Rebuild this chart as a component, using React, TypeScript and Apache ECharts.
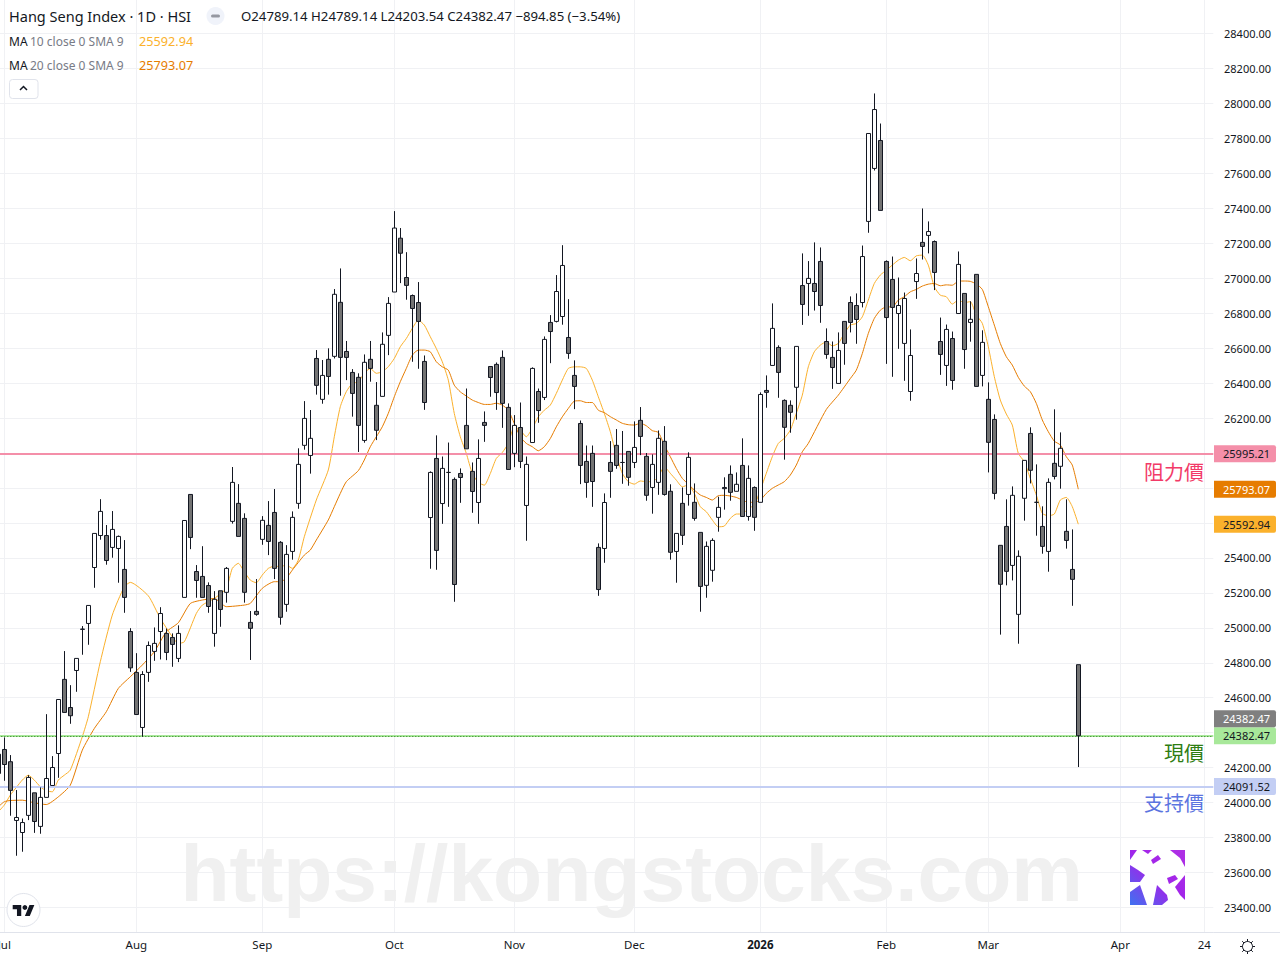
import React, { useEffect, useRef } from "react";
import * as echarts from "echarts";

const opens = [24277,24304,24234,23898,23829,23927,24056,23864,24030,24098,
24281,24705,24544,24756,24991,25025,25345,25528,25528,25460,
25454,25334,24979,24745,24430,24745,24865,24979,24968,24945,
24825,25174,25763,25322,25294,25242,24968,25212,25203,25609,
25712,25626,25031,25094,25506,25586,25660,25489,25134,25437,
25712,26044,25986,26541,26307,26536,26553,26862,26581,26461,
26433,26072,26536,26273,26324,26673,26921,27229,27004,26901,
26861,26524,25631,25969,25711,25889,25849,25883,26158,25895,
25717,26175,26495,26507,26547,26261,25998,26146,25700,26060,
26352,26318,26747,26753,26781,26661,26444,26169,25952,25998,
25460,25454,25946,26044,25946,26009,25946,26187,25981,25803,
25832,26067,25781,25437,25712,25763,25718,25546,25243,25329,
25632,25803,25878,25781,25929,25637,25803,25718,26358,26501,
26604,26301,26273,26376,26958,26970,26970,27096,26638,26547,
26398,26753,26861,26844,26861,27325,27628,27788,27096,26993,
26798,26627,26352,26981,27205,27245,27210,26638,26501,26655,
26798,26913,26747,27022,26444,26307,26192,25472,25580,25357,
25077,25741,26112,25718,25580,25437,25941,25924,25552,25334,
24789.14];

const closes = [24167,24218,24070,23915,23886,24144,23892,24030,24138,24201,
24590,24516,24497,24825,24993,25128,25540,25666,25385,25563,
25523,25174,24771,24504,24733,24899,24911,25082,24859,24905,
24968,25614,25517,25271,25174,25122,25163,25105,25340,25832,
25523,25203,24997,25077,25615,25494,25340,25060,25420,25632,
25935,26198,26084,26387,26444,26438,26908,26547,26547,26341,
26158,26519,26484,26130,26622,26856,27287,27143,26959,26827,
26753,26289,25889,25443,25912,25889,25248,25860,26024,25780,
25969,26158,26432,26346,26284,25906,26158,25952,25935,26484,
26243,26650,26695,26924,27073,26570,26381,25929,25832,25837,
25219,25717,25895,25929,25946,25861,26032,26095,25758,25935,
26084,25763,25432,25540,25529,25975,25626,25237,25466,25500,
25689,25796,25775,25821,25637,25855,25632,26335,26347,26713,
26461,26147,26233,26610,26850,26999,26924,26844,26564,26489,
26587,26627,26747,26764,27124,27828,27965,27388,26775,26833,
26844,26884,26558,27027,27182,27267,27033,26564,26707,26415,
27079,26592,26765,26381,26633,26061,25769,25249,25323,25758,
25409,25958,25901,25718,25466,25832,25866,26027,25500,25277.32,
24382.47];

const lows = [24068,24125,23925,23696,23719,23900,23827,23822,24030,24098,
24142,24516,24451,24634,24846,24903,25229,25504,25361,25401,
25258,25086,24748,24504,24377,24691,24811,24819,24815,24777,
24804,25174,25450,25172,25174,25086,24892,25006,25144,25596,
25523,25144,24816,25069,25475,25416,25279,25018,25092,25390,
25681,26019,25882,26334,26282,26334,26541,26328,26417,26208,
26006,26059,26408,26074,26324,26560,26921,26972,26877,26522,
26482,26247,25338,25332,25595,25692,25149,25715,26024,25658,
25595,26064,26322,26247,26144,25906,25919,25914,25498,26060,
26173,26303,26514,26747,26734,26539,26251,25822,25744,25692,
25183,25372,25744,25910,25824,25813,25914,25988,25727,25653,
25761,25756,25390,25258,25474,25699,25613,25092,25172,25264,
25550,25676,25727,25781,25637,25613,25555,25718,26259,26501,
26316,25962,26116,26191,26733,26785,26815,26745,26539,26367,
26398,26505,26690,26625,26833,27260,27616,27388,26510,26436,
26596,26413,26299,26882,27107,27142,26932,26447,26384,26362,
26798,26482,26637,26381,26381,25889,25735,24961,25243,25271,
24909,25613,25826,25527,25424,25321,25849,25796,25453,25126,
24203.54];

const highs = [24277,24373,24272,24072,23909,24157,24056,24087,24506,24266,
24590,24867,24672,24825,25010,25128,25540,25736,25588,25668,
25528,25502,24998,24855,24752,24922,25002,25118,24996,24968,
25014,25614,25763,25359,25467,25260,25210,25212,25348,25920,
25822,25655,25096,25279,25639,25725,25794,25496,25473,25666,
26027,26297,26246,26589,26532,26599,26938,27056,26641,26480,
26456,26564,26641,26406,26690,26892,27384,27287,27149,26907,
26978,26558,25895,26101,25980,26060,25860,25912,26369,25946,
26078,26238,26495,26518,26587,26284,26217,26289,25980,26490,
26369,26667,26789,27018,27189,26880,26530,26186,26043,26043,
25483,25769,26068,26137,26126,26009,26181,26263,26000,25992,
26129,26154,25821,25540,25803,26004,25826,25546,25494,25512,
25750,25861,25929,25889,26084,25929,25809,26347,26444,26856,
26616,26307,26301,26610,27142,27098,27205,27176,26713,26638,
26690,26753,26896,26913,27187,27828,28057,27885,27102,27124,
27004,26918,26707,27113,27399,27325,27216,26775,26735,26695,
27153,26913,26868,27022,26702,26404,26221,25472,25735,25809,
25443,25958,26147,25935,25695,25855,26250,26118,25735,25563,
24789.14];

const ma10: [number, number][] = [[0,23948],[1,23986],[2,24043],[3,24087],[4,24129],[5,24157],[6,24129],[7,24091],[8,24068],[9,24062],[10,24129],[11,24157],[12,24186],[14,24377],[15,24491],[17,24806],[19,25073],[21,25235],[22,25260],[25,25183],[27,25054],[29,24949],[30,24911],[31,24920],[33,25082],[34,25130],[36,25168],[38,25226],[39,25340],[40,25369],[41,25321],[42,25273],[43,25258],[44,25302],[45,25340],[46,25353],[47,25350],[48,25359],[49,25340],[50,25388],[51,25521],[53,25731],[55,25903],[56,26093],[57,26265],[58,26351],[59,26398],[60,26408],[61,26456],[62,26484],[63,26456],[64,26465],[65,26494],[66,26541],[67,26608],[68,26655],[69,26713],[70,26760],[71,26732],[72,26665],[73,26598],[74,26522],[75,26417],[76,26226],[77,26093],[78,25998],[79,25883],[80,25832],[81,25816],[82,25883],[83,25969],[84,26003],[85,26055],[86,26150],[87,26131],[88,26093],[89,26141],[90,26207],[91,26245],[92,26274],[93,26341],[94,26417],[95,26484],[96,26493],[97,26493],[98,26484],[99,26417],[100,26322],[101,26227],[102,26122],[103,25988],[104,25884],[105,25836],[106,25822],[107,25840],[108,25836],[109,25836],[110,25864],[111,25922],[112,25884],[113,25845],[114,25807],[115,25817],[116,25769],[117,25693],[118,25664],[119,25617],[120,25578],[121,25582],[122,25626],[123,25651],[124,25651],[125,25683],[126,25702],[127,25788],[128,25884],[129,25979],[130,26055],[131,26084],[132,26131],[133,26227],[134,26331],[135,26493],[136,26579],[137,26617],[138,26636],[139,26613],[140,26627],[141,26684],[142,26732],[143,26741],[144,26779],[145,26875],[146,26970],[147,27018],[148,27046],[149,27075],[150,27103],[151,27119],[152,27100],[153,27128],[154,27132],[155,27075],[156,26951],[157,26903],[158,26894],[159,26852],[160,26875],[161,26860],[162,26866],[163,26789],[164,26742],[165,26608],[166,26437],[167,26303],[168,26223],[169,26160],[170,25998],[171,25950],[172,25855],[173,25760],[174,25655],[175,25641],[176,25651],[177,25731],[178,25746],[179,25693],[180,25592.94]];

const ma20: [number, number][] = [[0,23976],[1,24005],[2,24012],[4,24014],[6,23999],[8,23989],[10,24033],[12,24100],[14,24300],[16,24424],[18,24520],[20,24653],[22,24720],[24,24787],[26,24863],[28,24977],[30,25029],[32,25139],[34,25159],[36,25168],[38,25121],[41,25130],[42,25140],[44,25226],[46,25264],[47,25264],[48,25283],[49,25330],[51,25416],[52,25445],[53,25502],[55,25617],[56,25693],[57,25769],[58,25836],[60,25899],[61,25960],[62,26036],[63,26093],[64,26150],[65,26227],[66,26322],[67,26408],[68,26484],[69,26560],[70,26589],[71,26589],[72,26579],[73,26522],[74,26493],[75,26474],[76,26388],[77,26350],[78,26326],[79,26303],[80,26289],[81,26278],[82,26278],[83,26285],[84,26274],[85,26245],[86,26169],[87,26093],[88,26055],[89,26036],[90,26013],[91,26036],[92,26083],[93,26150],[94,26207],[95,26255],[96,26297],[97,26299],[98,26289],[99,26289],[100,26245],[101,26231],[102,26208],[103,26189],[104,26170],[105,26162],[106,26160],[107,26170],[108,26156],[109,26128],[110,26118],[111,26046],[112,25979],[113,25912],[114,25855],[115,25822],[116,25788],[117,25760],[118,25746],[119,25731],[120,25756],[121,25758],[122,25754],[123,25746],[124,25731],[125,25718],[126,25718],[127,25731],[128,25769],[129,25798],[130,25817],[131,25836],[132,25874],[133,25931],[134,26007],[135,26055],[138,26249],[140,26331],[142,26426],[143,26474],[144,26569],[145,26684],[146,26770],[147,26817],[148,26836],[149,26836],[150,26875],[151,26894],[152,26922],[153,26936],[154,26955],[155,26966],[156,26970],[157,26957],[158,26962],[159,26960],[160,26983],[161,26984],[162,26982],[163,26967],[164,26936],[165,26837],[166,26732],[167,26627],[168,26551],[169,26503],[170,26433],[171,26383],[172,26351],[173,26284],[174,26189],[175,26122],[176,26068],[177,26046],[178,25979],[179,25931],[180,25793.07]];

const timeLabels: Record<number, string> = { 1: "Jul", 23: "Aug", 44: "Sep", 66: "Oct", 86: "Nov", 106: "Dec", 127: "2026", 148: "Feb", 165: "Mar", 187: "Apr", 201: "24" };
const categories = Array.from({ length: 203 }, (_, i) => String(i));
const hiddenPriceLabels = [23200, 24400, 25600, 25800, 26000, 28600];

const resistance = 25995.21;
const support = 24091.52;
const lastPrice = 24382.47;
const closeTagLevel = 24479.7; // the grey close tag sits one tag height above the green one
const maTen = 25592.94;
const maTwenty = 25793.07;

const UI = '"Noto Sans", sans-serif';
const CJK = '"Noto Sans CJK TC", sans-serif';
const INK = "#131722";

echarts.graphic.registerShape("tvMark", echarts.graphic.extendPath("M14 22H7V11H0V4h14v18zM28 22h-8l7.5-18h8L28 22z", {}));

function tag(level: number, text: number, bg: string, fg: string, line: any) {
  return {
    yAxis: level,
    symbol: "none",
    lineStyle: line,
    label: {
      show: true,
      opacity: 1,
      position: "end",
      distance: 0.7,
      formatter: text.toFixed(2),
      backgroundColor: bg,
      color: fg,
      fontFamily: UI,
      fontSize: 11,
      padding: [3, 6, 3, 9],
      borderRadius: [0, 2, 2, 0],
    },
  };
}

function buildGraphic() {
  const els: any[] = [];
  els.push({ type: "text", x: 180.5, y: 873, z: 1, silent: true, style: { text: "https://kongstocks.com", font: 'bold 80.4px "Liberation Sans", sans-serif', fill: "#f0f0f0", textVerticalAlign: "middle" } });
  els.push({ type: "text", x: 9, y: 16, z: 20, style: { text: "Hang Seng Index · 1D · HSI", font: `14.5px ${UI}`, fill: INK, textVerticalAlign: "middle" } });
  els.push({ type: "circle", z: 20, shape: { cx: 215.5, cy: 16, r: 9 }, style: { fill: "#f0f3fa" } });
  els.push({ type: "rect", z: 21, shape: { x: 211, y: 14.5, width: 9, height: 3, r: 1.5 }, style: { fill: "#9598a1" } });
  els.push({ type: "text", x: 241, y: 16, z: 20, style: { text: "O24789.14 H24789.14 L24203.54 C24382.47 −894.85 (−3.54%)", font: `13.2px ${UI}`, fill: INK, textVerticalAlign: "middle" } });
  [["10", "25592.94", "#fbb12c", 41], ["20", "25793.07", "#e67c00", 65]].forEach(([n, v, c, y]: any) => {
    els.push({ type: "text", x: 9, y, z: 20, style: { text: "MA", font: `12px ${UI}`, fill: INK, textVerticalAlign: "middle" } });
    els.push({ type: "text", x: 30, y, z: 20, style: { text: `${n} close 0 SMA 9`, font: `12px ${UI}`, fill: "#787b86", textVerticalAlign: "middle" } });
    els.push({ type: "text", x: 139, y, z: 20, style: { text: v, font: `12.7px ${UI}`, fill: c, textVerticalAlign: "middle" } });
  });
  els.push({ type: "rect", z: 20, shape: { x: 9.5, y: 79.5, width: 28.5, height: 19, r: 3 }, style: { fill: "#fff", stroke: "#e0e3eb", lineWidth: 1 } });
  els.push({ type: "polyline", z: 21, shape: { points: [[20, 90], [23.5, 86.5], [27, 90]] }, style: { fill: "none", stroke: INK, lineWidth: 1.5 } });
  [["阻力價", 471, "#f23a68"], ["現價", 752.5, "#2e7d12"], ["支持價", 802.5, "#5b74e0"]].forEach(([t, y, c]: any) => {
    els.push({ type: "text", x: 1204, y, z: 20, style: { text: t, font: `20px ${CJK}`, fill: c, textAlign: "right", textVerticalAlign: "middle" } });
  });
  els.push({ type: "line", z: 20, shape: { x1: 1213.5, y1: 932.5, x2: 1280, y2: 932.5 }, style: { stroke: "#e0e3eb", lineWidth: 1 } });
  els.push({ type: "circle", z: 20, shape: { cx: 1247.5, cy: 946.5, r: 5 }, style: { fill: "none", stroke: INK, lineWidth: 1 } });
  for (let a = 0; a < 8; a++) {
    const t = (a * Math.PI) / 4;
    els.push({ type: "line", z: 20, shape: { x1: 1247.5 + 5 * Math.cos(t), y1: 946.5 + 5 * Math.sin(t), x2: 1247.5 + 7.5 * Math.cos(t), y2: 946.5 + 7.5 * Math.sin(t) }, style: { stroke: INK, lineWidth: 1 } });
  }
  els.push({ type: "circle", z: 20, shape: { cx: 23.5, cy: 910, r: 16.5 }, style: { fill: "#fff", stroke: "#e0e3eb", lineWidth: 1 } });
  els.push({ type: "tvMark", z: 21, x: 12.7, y: 902.6, scaleX: 0.61, scaleY: 0.61, style: { fill: INK } });
  els.push({ type: "circle", z: 21, shape: { cx: 24.9, cy: 907.5, r: 2.4 }, style: { fill: INK } });
  const lx = 1130, ly = 850;
  els.push({ type: "rect", z: 20, shape: { x: lx, y: ly, width: 55, height: 55 }, style: { fill: "#fff" } });
  const grad = new (echarts.graphic.LinearGradient as any)(lx, ly + 55, lx + 55, ly, [{ offset: 0, color: "#3f72f0" }, { offset: 0.5, color: "#a024ea" }, { offset: 1, color: "#b030e4" }], true);
  const holes = [
    [[0, 0], [7, 0], [0, 10]],
    [[12, 0], [22, 0], [18, 4]],
    [[21, 10], [28, 5], [31, 9], [23, 14]],
    [[40, 0], [55, 0], [55, 17], [50, 8]],
    [[0, 15], [8, 20], [15, 25], [10, 32], [0, 32]],
    [[37, 28], [45, 25], [48, 29], [39, 34]],
    [[0, 42], [10, 35], [17, 55], [0, 55]],
    [[23, 55], [27, 35], [37, 45], [38, 50], [32, 55]],
    [[45, 37], [55, 25], [55, 50], [50, 45]],
  ];
  holes.forEach((p) => els.push({ type: "polygon", z: 21, shape: { points: p.map(([a, b]) => [lx + a, ly + b]) }, style: { fill: grad } }));
  return els;
}

export default function App() {
  const ref = useRef<HTMLDivElement>(null);
  useEffect(() => {
    document.body.style.margin = "0";
    const chart = echarts.init(ref.current!, undefined, { renderer: "svg" });
    const candles = opens.map((o, i) => [o, closes[i], lows[i], highs[i]]);
    chart.setOption({
      animation: false,
      backgroundColor: "#fff",
      grid: [
        { left: -4.7, width: 1218, top: -1.46, height: 943.92, outerBoundsMode: "none" },
        { left: -4.7, width: 1218, top: 0, height: 932.5, outerBoundsMode: "none" },
      ],
      xAxis: [
        { type: "category", gridIndex: 0, data: categories, show: false },
        {
          type: "category",
          gridIndex: 1,
          data: categories,
          axisLine: { lineStyle: { color: "#e0e3eb" } },
          axisTick: { show: false },
          splitLine: { show: true, alignWithLabel: true, interval: (i: number) => timeLabels[i] != null, lineStyle: { color: "#f0f1f4" } },
          axisLabel: {
            interval: (i: number) => timeLabels[i] != null,
            margin: 6,
            color: INK,
            fontFamily: UI,
            fontSize: 11.5,
            formatter: (v: string) => {
              const t = timeLabels[Number(v)] ?? "";
              return t === "2026" ? `{b|${t}}` : t;
            },
            rich: { b: { fontWeight: "bold", fontFamily: UI, fontSize: 11.5, color: INK } },
          },
        },
      ],
      yAxis: [
        {
          type: "value",
          gridIndex: 0,
          position: "right",
          min: 23200,
          max: 28600,
          interval: 200,
          axisLine: { show: false },
          axisTick: { show: false },
          splitLine: { show: true, showMinLine: false, showMaxLine: false, lineStyle: { color: "#f0f1f4" } },
          axisLabel: {
            margin: 57.7,
            align: "right",
            color: INK,
            fontFamily: UI,
            fontSize: 11,
            formatter: (v: number) => (hiddenPriceLabels.includes(v) ? "" : v.toFixed(2)),
          },
        },
        { type: "value", gridIndex: 1, min: 0, max: 1, show: false },
      ],
      series: [
        {
          type: "line",
          name: "MA 10",
          xAxisIndex: 0,
          yAxisIndex: 0,
          data: ma10,
          z: 2,
          showSymbol: false,
          smooth: 0.2,
          lineStyle: { color: "#fbb12c", width: 1 },
          markLine: {
            silent: true,
            z: 3,
            symbol: "none",
            animation: false,
            data: [
              tag(resistance, resistance, "#f48fa9", INK, { color: "#f48fa9", width: 2, type: "solid" }),
              tag(support, support, "#c3cef4", INK, { color: "#c3cef4", width: 2, type: "solid" }),
              tag(lastPrice, lastPrice, "#a8e89a", INK, { color: "#a8e89a", width: 2, type: "solid" }),
              { yAxis: lastPrice, symbol: "none", label: { show: false }, lineStyle: { color: "#2e7d1e", width: 1, type: [1, 2] } },
              tag(closeTagLevel, lastPrice, "#7f7f7f", "#fff", { color: "transparent", width: 0 }),
              tag(maTwenty, maTwenty, "#e67c00", "#fff", { color: "transparent", width: 0 }),
              tag(maTen, maTen, "#fbb12c", INK, { color: "transparent", width: 0 }),
            ],
          },
        },
        {
          type: "line",
          name: "MA 20",
          xAxisIndex: 0,
          yAxisIndex: 0,
          data: ma20,
          z: 2,
          showSymbol: false,
          smooth: 0.2,
          lineStyle: { color: "#e67c00", width: 1 },
        },
        {
          type: "candlestick",
          name: "Hang Seng Index",
          xAxisIndex: 0,
          yAxisIndex: 0,
          data: candles,
          z: 10,
          barWidth: 4,
          itemStyle: { color: "#ffffff", color0: "#737373", borderColor: INK, borderColor0: INK, borderColorDoji: INK, borderWidth: 1 },
        },
      ],
      graphic: buildGraphic(),
    });
    return () => chart.dispose();
  }, []);
  return <div ref={ref} style={{ position: "absolute", left: 0, top: 0, width: 1280, height: 960 }} />;
}
